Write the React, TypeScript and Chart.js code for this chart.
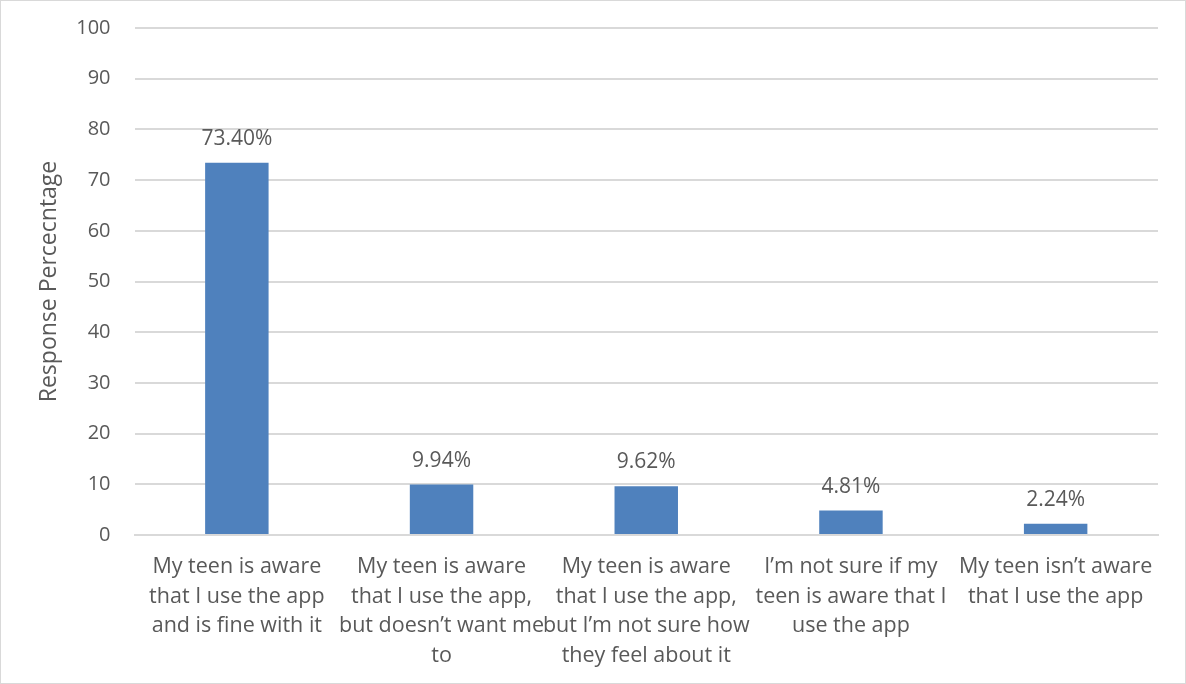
import React, { useEffect, useRef } from "react";
import { Chart, registerables } from "chart.js";

Chart.register(...registerables);

const categories: string[][] = [
  ["My teen is aware", "that I use the app", "and is fine with it"],
  ["My teen is aware", "that I use the app,", "but doesn\u2019t want me", "to"],
  ["My teen is aware", "that I use the app,", "but I\u2019m not sure how", "they feel about it"],
  ["I\u2019m not sure if my", "teen is aware that I", "use the app"],
  ["My teen isn\u2019t aware", "that I use the app"],
];
const values: number[] = [73.4, 9.94, 9.62, 4.81, 2.24];
const valueLabels: string[] = ["73.40%", "9.94%", "9.62%", "4.81%", "2.24%"];
const yTitle = "Response Percecntage";

const FONT = "'Open Sans'";
const TEXT = "#595959";
const GRID = "#d9d9d9";

const labelPlugin = {
  id: "valueLabels",
  afterDatasetsDraw(chart: any) {
    const { ctx } = chart;
    const meta = chart.getDatasetMeta(0);
    ctx.save();
    ctx.font = `21px ${FONT}`;
    ctx.fillStyle = TEXT;
    ctx.textAlign = "center";
    ctx.textBaseline = "middle";
    meta.data.forEach((bar: any, i: number) => {
      ctx.fillText(valueLabels[i], bar.x, bar.y - 24);
    });
    ctx.restore();
  },
};

export default function App() {
  const ref = useRef<HTMLCanvasElement>(null);
  useEffect(() => {
    document.body.style.margin = "0";
    const chart = new Chart(ref.current!, {
      type: "bar",
      data: {
        labels: categories as any,
        datasets: [
          {
            data: values,
            backgroundColor: "#4f81bd",
            barPercentage: 0.31,
            categoryPercentage: 1,
          },
        ],
      },
      plugins: [labelPlugin],
      options: {
        animation: false,
        responsive: false,
        layout: { padding: { left: 36, right: 28, top: 0, bottom: 0 } },
        plugins: { legend: { display: false }, tooltip: { enabled: false } },
        scales: {
          x: {
            grid: { display: false },
            border: { color: GRID, width: 2 },
            ticks: {
              color: TEXT,
              font: { family: FONT, size: 21.5, lineHeight: 1.38 },
              maxRotation: 0,
              minRotation: 0,
              autoSkip: false,
              padding: 9,
            },
            afterFit: (s: any) => {
              s.height = 684 - 535 - 0;
            },
          },
          y: {
            min: 0,
            max: 100,
            grid: {
              color: GRID,
              lineWidth: 2,
              drawTicks: true,
              tickLength: 8,
              tickColor: "rgba(0,0,0,0)",
            },
            border: { display: false },
            ticks: {
              stepSize: 10,
              color: TEXT,
              font: { family: FONT, size: 20 },
              padding: 16,
            },
            title: {
              display: true,
              text: yTitle,
              color: TEXT,
              font: { family: FONT, size: 23 },
              padding: 0,
            },
            afterFit: (s: any) => {
              s.width = 134.5 - 36;
            },
          },
        },
      },
    });
    return () => chart.destroy();
  }, []);
  return (
    <div style={{ position: "relative", width: 1186, height: 684 }}>
      <canvas ref={ref} width={1186} height={684} style={{ display: "block" }} />
      <div
        style={{
          position: "absolute",
          left: 0,
          top: 0,
          width: 1184,
          height: 682,
          border: "1px solid #d9d9d9",
          pointerEvents: "none",
        }}
      />
    </div>
  );
}
